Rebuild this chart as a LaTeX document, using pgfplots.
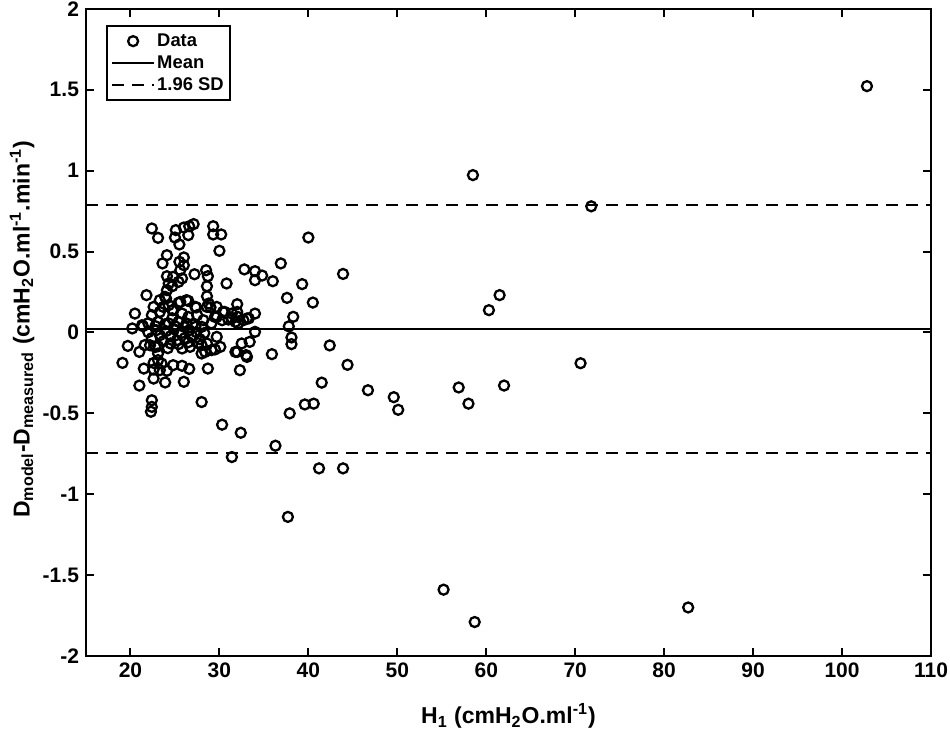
\documentclass[border=0pt]{standalone}
\usepackage{pgfplots}
\pgfplotsset{compat=1.18}
\usepackage{pgfplotstable}
\usepackage{fontspec}
\setmainfont{Liberation Sans}
\pgfplotsset{
  legline/.style={legend image code/.code={\draw[##1] (0pt,0pt) -- (21pt,0pt);}},
  legmark/.style={legend image code/.code={\draw[mark repeat=2,mark phase=2,##1] plot coordinates {(0pt,0pt)(10.5pt,0pt)(21pt,0pt)};}},
}
\pgfplotstableread{
x y
102.8 1.523
58.5 0.973
71.8 0.78
61.5 0.231
60.3 0.138
70.6 -0.19
62.0 -0.328
56.9 -0.34
58.0 -0.44
49.6 -0.40
50.1 -0.478
46.7 -0.357
55.2 -1.59
58.7 -1.79
82.7 -1.70
37.7 -1.14
41.2 -0.84
43.9 -0.84
36.3 -0.70
31.4 -0.77
32.4 -0.62
30.3 -0.57
28.0 -0.43
22.4 -0.419
22.4 -0.46
22.3 -0.49
40.0 0.587
36.9 0.427
43.9 0.362
39.3 0.299
37.6 0.214
40.5 0.185
38.3 0.097
37.8 0.038
38.1 -0.031
38.1 -0.072
42.4 -0.08
44.4 -0.2
41.5 -0.31
39.6 -0.445
40.6 -0.44
37.9 -0.50
22.4 0.643
23.1 0.585
25.1 0.633
26.0 0.649
26.6 0.657
27.1 0.670
25.0 0.587
25.5 0.544
26.5 0.602
29.3 0.657
29.3 0.606
30.2 0.606
30.0 0.505
24.1 0.478
23.6 0.427
25.5 0.437
26.0 0.464
26.0 0.416
25.6 0.385
27.2 0.360
28.5 0.385
28.7 0.348
32.8 0.390
34.0 0.379
34.8 0.352
34.0 0.323
36.0 0.317
24.1 0.348
24.8 0.344
25.8 0.334
24.3 0.303
24.7 0.286
25.4 0.313
24.1 0.262
24.0 0.210
28.6 0.286
30.8 0.303
28.6 0.224
21.8 0.231
22.6 0.158
23.3 0.200
23.7 0.158
24.7 0.138
25.6 0.189
26.5 0.195
27.4 0.155
28.6 0.158
29.0 0.155
29.7 0.096
30.4 0.127
31.4 0.087
32.0 0.127
32.0 0.175
33.1 0.087
34.0 0.117
20.5 0.117
21.4 0.039
20.2 0.025
19.7 -0.083
21.0 -0.120
19.1 -0.188
21.5 -0.223
22.6 -0.188
23.1 -0.171
23.5 -0.192
24.1 -0.237
24.8 -0.202
25.8 -0.206
26.6 -0.225
22.6 -0.285
23.9 -0.309
21.0 -0.328
26.0 -0.305
28.7 -0.223
28.0 -0.130
30.1 -0.089
29.7 -0.027
28.6 -0.068
32.3 -0.233
32.0 -0.120
33.0 -0.140
33.4 -0.058
34.0 0.004
35.9 -0.134
32.5 -0.068
33.1 -0.151
31.8 -0.120
29.5 -0.105
29.7 0.158
30.6 0.127
31.4 0.117
32.1 0.096
32.7 0.076
33.3 0.087
30.3 0.076
31.0 0.080
31.8 0.066
32.1 0.056
21.3 0.045
22.6 -0.229
23.3 -0.233
23.1 -0.130
21.6 -0.078
22.8 -0.089
24.5 -0.068
25.8 -0.099
26.7 -0.089
28.0 -0.078
28.4 -0.120
29.1 -0.109
23.9 0.220
24.3 0.169
25.4 0.183
26.3 0.200
27.3 0.158
28.8 0.179
29.5 0.096
22.4 0.107
23.3 0.127
24.8 0.138
25.8 0.117
26.5 0.096
27.5 0.107
28.2 0.076
29.1 0.056
23.1 0.066
24.3 0.056
25.4 0.066
26.3 0.056
27.3 0.035
28.0 0.035
22.0 0.002
22.4 -0.035
22.9 0.014
23.3 -0.017
23.7 -0.054
24.0 0.008
24.5 -0.023
24.9 0.020
25.2 -0.048
25.7 -0.004
26.1 -0.035
26.6 0.014
26.9 -0.023
27.4 0.002
27.8 -0.041
28.3 -0.004
22.2 -0.079
23.1 -0.085
24.2 -0.097
25.4 -0.072
26.5 -0.060
27.6 -0.066
22.8 0.039
23.9 0.051
25.0 0.039
26.1 0.033
27.0 0.051
24.7 0.088
22.0 0.058
}\datatable
\begin{document}
\begin{tikzpicture}
\begin{axis}[
  scale only axis,
  width=422.5pt, height=323.5pt,
  xmin=15, xmax=110, ymin=-2, ymax=2,
  xtick={20,30,...,110},
  ytick={-2,-1.5,...,2},
  tick align=inside,
  major tick length=4pt,
  axis line style={line width=1pt},
  every tick/.style={line width=1pt,black},
  tick label style={font=\fontsize{10.5}{12}\selectfont\bfseries},
  /pgf/number format/assume math mode=true,
  yticklabel style={/pgf/number format/fixed},
  xlabel={H\textsubscript{1} (cmH\textsubscript{2}O.ml\textsuperscript{-1})},
  ylabel={D\textsubscript{model}-D\textsubscript{measured} (cmH\textsubscript{2}O.ml\textsuperscript{-1}.min\textsuperscript{-1})},
  label style={font=\fontsize{11.5}{13}\selectfont\bfseries},
  xlabel style={at={(axis description cs:0.5,-0.093)},anchor=center},
  ylabel style={at={(axis description cs:-0.0757,0.505)},anchor=center},
  legend style={at={(0.0237,0.975)},anchor=north west,draw=black,line width=1pt,
    font=\fontsize{9.2}{11}\selectfont\bfseries,inner sep=2pt,
    nodes={inner sep=1pt,text height=7pt,text depth=2pt},row sep=0pt},
  legend cell align=left,
]
\addplot[only marks, mark=o, mark size=2.5pt, line width=1.15pt, black, legmark]
  table[x=x,y=y]{\datatable};
\addlegendentry{Data}
\addplot[black, line width=1.1pt, legline]
  coordinates {(15,0.02) (110,0.02)};
\addlegendentry{Mean}
\addplot[black, line width=1.1pt, dash pattern=on 6pt off 4pt, legline]
  coordinates {(15,0.787) (110,0.787)};
\addlegendentry{1.96 SD}
\addplot[black, line width=1.1pt, dash pattern=on 6pt off 4pt, forget plot]
  coordinates {(15,-0.746) (110,-0.746)};
\end{axis}
\pgfresetboundingbox
\path[use as bounding box] ([shift={(-43pt,-37pt)}]current axis.south west) rectangle ([shift={(9.5pt,4.5pt)}]current axis.north east);
\end{tikzpicture}
\end{document}
